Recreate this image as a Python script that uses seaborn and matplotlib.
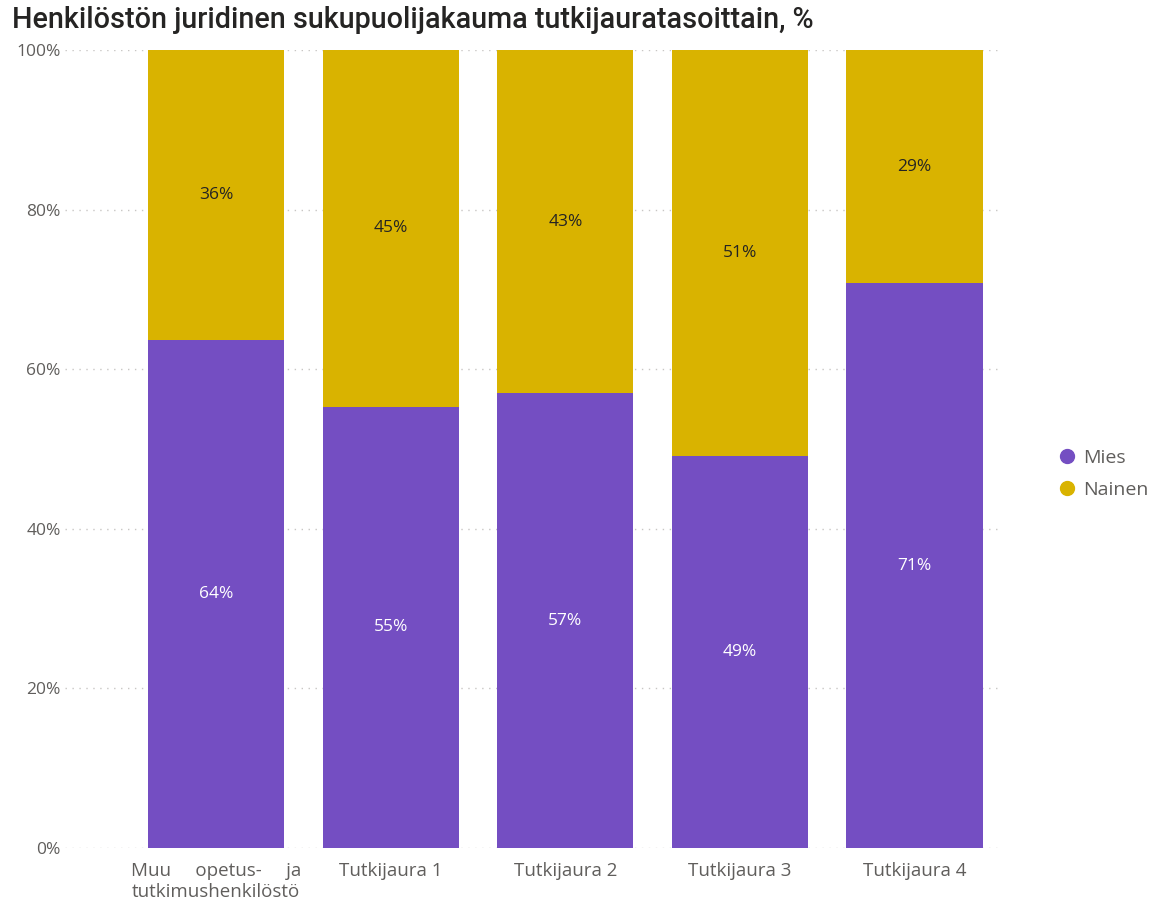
import matplotlib
matplotlib.use("Agg")
import matplotlib.pyplot as plt
from matplotlib.lines import Line2D
import seaborn as sns
import pandas as pd

# Share of staff by legal gender per researcher career stage (%)
categories = ["Muu     opetus-     ja\ntutkimushenkilöstö", "Tutkijaura 1", "Tutkijaura 2",
              "Tutkijaura 3", "Tutkijaura 4"]
mies = [63.6, 55.3, 57.0, 49.1, 70.8]
nainen = [100 - v for v in mies]
series_names = ["Mies", "Nainen"]
y_ticks = [0, 20, 40, 60, 80, 100]

PURPLE = "#744EC2"
GOLD = "#D9B300"

sns.set_theme(style="white")
plt.rcParams["font.family"] = ["Open Sans", "DejaVu Sans"]

df = pd.DataFrame({"kategoria": categories, "Mies": mies, "Nainen": nainen})
df["yhteensa"] = df["Mies"] + df["Nainen"]

fig = plt.figure(figsize=(11.58, 9.02), dpi=100)
ax = fig.add_axes([65 / 1158, 1 - 848 / 902, (1000 - 65) / 1158, (848 - 50) / 902])

# Stacked bars: draw the totals (gold) first, then the lower segment (purple) on top
sns.barplot(data=df, x="kategoria", y="yhteensa", color=GOLD, width=0.78,
            saturation=1, linewidth=0, ax=ax, zorder=2)
sns.barplot(data=df, x="kategoria", y="Mies", color=PURPLE, width=0.78,
            saturation=1, linewidth=0, ax=ax, zorder=3)

for i, (m, n) in enumerate(zip(mies, nainen)):
    ax.text(i, m / 2, f"{m:.0f}%", ha="center", va="center", color="white",
            fontsize=12.5, zorder=4)
    ax.text(i, m + n / 2, f"{n:.0f}%", ha="center", va="center", color="#252423",
            fontsize=12.5, zorder=4)

ax.set_ylim(0, 100)
ax.set_xlim(-0.867, 4.49)
ax.set_yticks(y_ticks)
ax.set_yticklabels([f"{t}%" for t in y_ticks])
ax.set_xlabel("")
ax.set_ylabel("")
ax.tick_params(axis="both", length=0, labelcolor="#605E5C")
ax.tick_params(axis="x", pad=10, labelsize=13.5)
ax.tick_params(axis="y", pad=3, labelsize=12.5)
ax.yaxis.grid(True, linestyle=(0, (1, 4)), color="#C8C6C4", linewidth=1, zorder=0)
ax.xaxis.grid(False)
for s in ax.spines.values():
    s.set_visible(False)

handles = [Line2D([], [], marker="o", linestyle="", markersize=10,
                  markerfacecolor=c, markeredgecolor=c, label=lab)
           for c, lab in zip([PURPLE, GOLD], series_names)]
fig.legend(handles=handles, loc="center left", bbox_to_anchor=(1040 / 1158, 1 - 474 / 902),
           frameon=False, fontsize=14, labelcolor="#605E5C", handletextpad=-0.2,
           labelspacing=0.7, borderaxespad=0)

fig.text(12 / 1158, 1 - 20 / 902, "Henkilöstön juridinen sukupuolijakauma tutkijauratasoittain, %",
         ha="left", va="center", fontsize=20.7, fontweight="medium", color="#252423",
         family=["Roboto", "DejaVu Sans"])

fig.savefig("out.png", dpi=100)
